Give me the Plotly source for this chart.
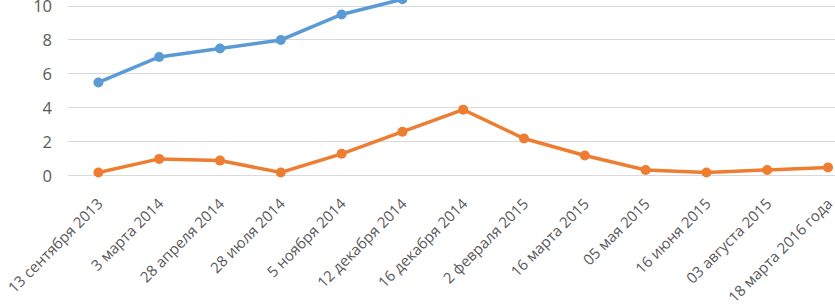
import plotly.graph_objects as go

categories = ["13 сентября 2013", "3 марта 2014", "28 апреля 2014", "28 июля 2014",
              "5 ноября 2014", "12 декабря 2014", "16 декабря 2014", "2 февраля 2015",
              "16 марта 2015", "05 мая 2015", "16 июня 2015", "03 августа 2015",
              "18 марта 2016 года"]
series_blue = [5.5, 7.0, 7.5, 8.0, 9.5, 10.4, None, None, None, None, None, None, None]
series_orange = [0.2, 1.0, 0.9, 0.2, 1.3, 2.6, 3.9, 2.2, 1.2, 0.35, 0.2, 0.35, 0.5]
y_ticks = [0, 2, 4, 6, 8, 10]

x_idx = list(range(len(categories)))

fig = go.Figure()
fig.add_trace(go.Scatter(x=x_idx, y=series_orange, mode="lines+markers",
                         line=dict(color="#ED7D31", width=3.5),
                         marker=dict(color="#ED7D31", size=10),
                         showlegend=False))
fig.add_trace(go.Scatter(x=x_idx, y=series_blue, mode="lines+markers",
                         line=dict(color="#5B9BD5", width=3.5),
                         marker=dict(color="#5B9BD5", size=10),
                         showlegend=False, connectgaps=False))

fig.update_layout(
    width=835, height=308,
    margin=dict(l=68, r=0, t=0, b=127),
    paper_bgcolor="white", plot_bgcolor="white",
    font=dict(family="Open Sans, Liberation Sans, sans-serif", color="#595959", size=13),
)
fig.update_xaxes(
    range=[-0.5, 12.115], automargin=False, ticklabeloverflow="allow",
    tickmode="array", tickvals=x_idx, ticktext=categories,
    tickangle=-45, showgrid=False, zeroline=False, showline=False,
    ticks="", ticklabelstandoff=10, tickfont=dict(size=15, color="#595959"),
)
fig.update_yaxes(
    range=[-0.3, 10.353], automargin=False, ticklabeloverflow="allow",
    tickmode="array", tickvals=y_ticks, ticktext=[str(v) for v in y_ticks],
    showgrid=True, gridcolor="#D9D9D9", gridwidth=1,
    zeroline=False, showline=False, ticks="", ticklabelstandoff=15,
    tickfont=dict(size=16.5, color="#595959"),
)

fig.write_html("out.html", config={"displayModeBar": False},
               post_script="document.body.style.margin='0';document.body.style.overflow='hidden';")
